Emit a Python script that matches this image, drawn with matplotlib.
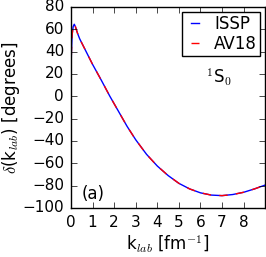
import numpy as np
import matplotlib
matplotlib.use('Agg')
import matplotlib.pyplot as plt

# phase shift (ISSP and AV18 overlap)
k_lab = [0.0, 0.02, 0.05, 0.1, 0.15, 0.2, 0.3, 0.4, 0.7, 1.0, 1.4, 1.8, 2.2,
         2.6, 3.0, 3.5, 4.0, 4.5, 5.0, 5.5, 6.0, 6.5, 7.0, 7.5, 8.0, 8.5, 9.0]
delta_issp = [22, 40, 55, 62.5, 64.5, 62.5, 56.5, 51.5, 40, 28.5, 14.5, 0, -13.5,
              -27, -39, -52, -62.5, -71, -78, -83, -86.5, -88.5, -89, -88, -86, -83, -79.5]
delta_av18 = list(delta_issp)

plt.style.use('classic')
fig = plt.figure(figsize=(2.66, 2.57), dpi=100)
ax = fig.add_axes([0.267, 0.191, 0.73, 0.782])

ax.plot(k_lab, delta_issp, color='blue', lw=1, label='ISSP')
ax.plot(k_lab, delta_av18, color='red', lw=1, ls='--', label='AV18')

ax.set_xlim(0, 9)
ax.set_ylim(-100, 80)
ax.set_xticks(range(0, 9))
ax.set_yticks(range(-100, 81, 20))
ax.tick_params(labelsize=11, direction='in', length=4, pad=5)
ax.set_xlabel(r'k$_{lab}$ [fm$^{-1}$]', fontsize=12, labelpad=3)
ax.set_ylabel(r'$\delta$(k$_{lab}$) [degrees]', fontsize=12, labelpad=0)

ax.legend(loc='upper right', fontsize=12, handlelength=1.1, borderpad=0.2,
          labelspacing=0.1, handletextpad=0.6, borderaxespad=0.3, fancybox=False)
ax.text(0.765, 0.62, r'$^1$S$_0$', transform=ax.transAxes, fontsize=12, ha='center')
ax.text(0.055, 0.045, '(a)', transform=ax.transAxes, fontsize=12)

fig.savefig('out.png', dpi=100)
